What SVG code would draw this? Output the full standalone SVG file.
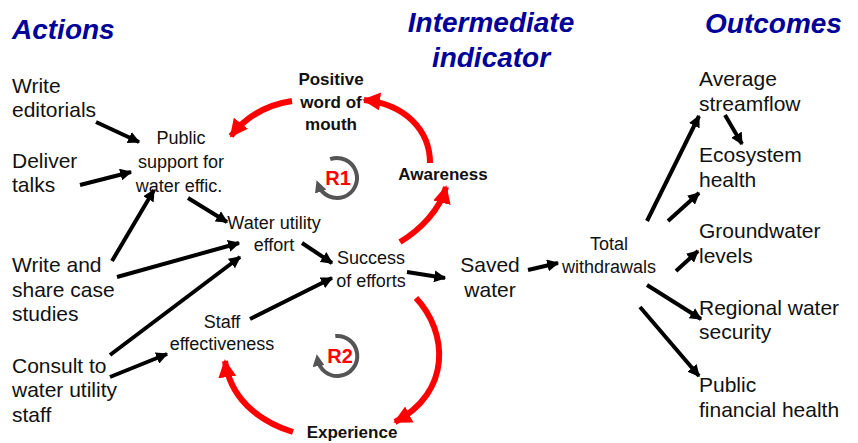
<svg xmlns="http://www.w3.org/2000/svg" width="858" height="443" viewBox="0 0 858 443">
<defs>
<marker id="ab" viewBox="0 0 10 10" refX="9" refY="5" markerWidth="3" markerHeight="3" orient="auto" markerUnits="strokeWidth"><path d="M0,0 L10,5 L0,10 z" fill="#000"/></marker>
<marker id="ar" viewBox="0 0 10 10" refX="9" refY="5" markerWidth="3" markerHeight="3.2" orient="auto" markerUnits="strokeWidth"><path d="M0,0 L10,5 L0,10 z" fill="#f00"/></marker>
<marker id="ag" viewBox="0 0 10 10" refX="6" refY="5" markerWidth="3" markerHeight="3" orient="auto" markerUnits="strokeWidth"><path d="M0,0 L10,5 L0,10 z" fill="#555"/></marker>
</defs>
<style>
text{font-family:"Liberation Sans",Arial,sans-serif;fill:#111}
.t{font-size:28px;font-weight:bold;font-style:italic;fill:#000099}
.l{font-size:21px}
.m{font-size:18px;text-anchor:middle}
.b{font-size:17px;font-weight:bold;text-anchor:middle}
.r{font-size:21px}
.k{font-size:20px;font-weight:bold;fill:#f00;text-anchor:middle}
.bl{stroke:#000;stroke-width:4;fill:none;marker-end:url(#ab)}
.rd{stroke:#f00;stroke-width:6;fill:none;marker-end:url(#ar)}
.gl{stroke:#555;stroke-width:4;fill:none;marker-end:url(#ag)}
</style>
<g id="titles">
<text class="t" x="12" y="39">Actions</text>
<text class="t" x="491" y="32" text-anchor="middle">Intermediate</text>
<text class="t" x="491" y="67" text-anchor="middle">indicator</text>
<text class="t" x="705" y="33">Outcomes</text>
</g>
<g id="n-editorials"><text class="l" x="12" y="93">Write</text><text class="l" x="12" y="117">editorials</text></g>
<g id="n-talks"><text class="l" x="12" y="168">Deliver</text><text class="l" x="12" y="192">talks</text></g>
<g id="n-case"><text class="l" x="12" y="272">Write and</text><text class="l" x="12" y="297">share case</text><text class="l" x="12" y="321">studies</text></g>
<g id="n-consult"><text class="l" x="12" y="373">Consult to</text><text class="l" x="12" y="397">water utility</text><text class="l" x="12" y="422">staff</text></g>
<g id="n-public"><text class="m" x="181" y="144">Public</text><text class="m" x="181" y="168">support for</text><text class="m" x="179" y="192">water effic.</text></g>
<g id="n-wom"><text class="b" x="331" y="85">Positive</text><text class="b" x="331" y="108">word of</text><text class="b" x="331" y="130">mouth</text></g>
<g id="n-awareness"><text class="b" x="443" y="180">Awareness</text></g>
<g id="n-utility"><text class="m" x="274" y="229">Water utility</text><text class="m" x="274" y="251">effort</text></g>
<g id="n-success"><text class="m" x="371" y="264">Success</text><text class="m" x="371" y="287">of efforts</text></g>
<g id="n-staff"><text class="m" x="222" y="328">Staff</text><text class="m" x="222" y="350">effectiveness</text></g>
<g id="n-experience"><text class="b" x="352" y="438">Experience</text></g>
<g id="n-saved"><text class="l" x="490" y="272" text-anchor="middle">Saved</text><text class="l" x="490" y="297" text-anchor="middle">water</text></g>
<g id="n-total"><text class="m" x="609" y="250">Total</text><text class="m" x="609" y="273">withdrawals</text></g>
<g id="n-stream"><text class="r" x="699" y="86">Average</text><text class="r" x="699" y="111">streamflow</text></g>
<g id="n-eco"><text class="r" x="699" y="162">Ecosystem</text><text class="r" x="699" y="187">health</text></g>
<g id="n-ground"><text class="r" x="699" y="238">Groundwater</text><text class="r" x="699" y="263">levels</text></g>
<g id="n-regional"><text class="r" x="699" y="315">Regional water</text><text class="r" x="699" y="339">security</text></g>
<g id="n-financial"><text class="r" x="699" y="392">Public</text><text class="r" x="699" y="417">financial health</text></g>
<g id="loops">
<path class="gl" d="M330.2,159.2 A20,20 0 1 1 318.2,184.8"/>
<text class="k" x="338" y="185">R1</text>
<path class="gl" d="M335.3,336.1 A20,20 0 1 1 317.5,359"/>
<text class="k" x="340" y="363">R2</text>
</g>
<g id="connectors">
<path class="bl" d="M96,122 L139,142"/>
<path class="bl" d="M80,185 L131,172"/>
<path class="bl" d="M112,261 L154,190"/>
<path class="bl" d="M117,277 L239,243"/>
<path class="bl" d="M110,355 L240,257"/>
<path class="bl" d="M110,377 L167,354"/>
<path class="bl" d="M188,198 L227,222"/>
<path class="bl" d="M302,243 L332,263"/>
<path class="bl" d="M250,319 L332,278"/>
<path class="bl" d="M407,272 L445,278"/>
<path class="bl" d="M528,270 L558,263"/>
<path class="bl" d="M647,221 L699,116"/>
<path class="bl" d="M725,115 L742,144"/>
<path class="bl" d="M668,221 L699,193"/>
<path class="bl" d="M676,271 L698,251"/>
<path class="bl" d="M647,285 L701,319"/>
<path class="bl" d="M640,307 L699,376"/>
<path class="rd" d="M430,163 C430,130 405,104 364,100"/>
<path class="rd" d="M292,101 C265,105 245,118 231,136"/>
<path class="rd" d="M400,242 C420,230 440,210 446,187"/>
<path class="rd" d="M416,298 C448,332 452,392 395,422"/>
<path class="rd" d="M293,432 C255,420 230,396 225,361"/>
</g>
</svg>
